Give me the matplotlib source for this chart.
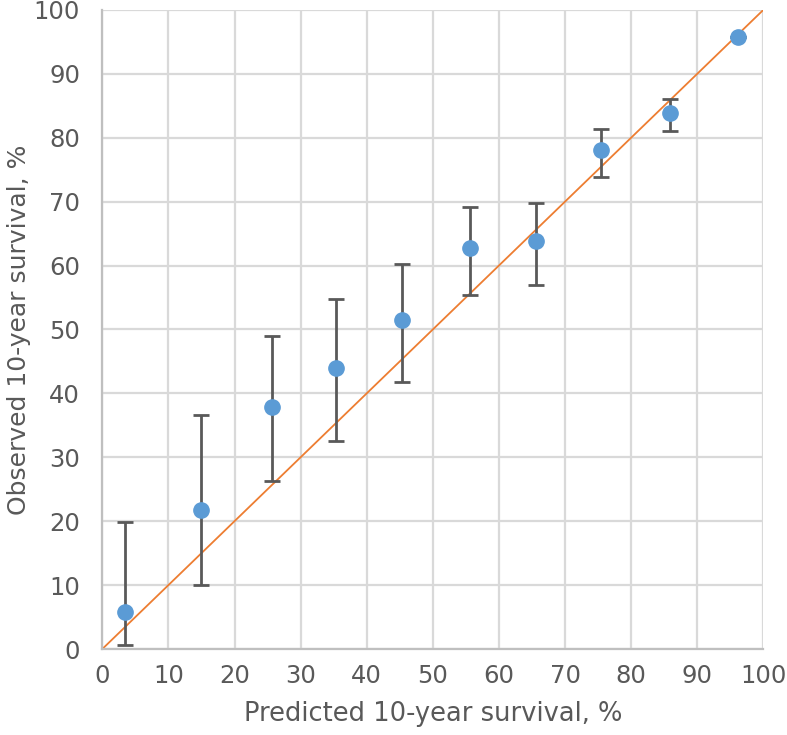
import matplotlib.pyplot as plt
import numpy as np

plt.rcParams['font.family'] = ['DejaVu Sans']

# predicted vs observed 10-year survival (%)
predicted = [3.5, 14.9, 25.6, 35.3, 45.3, 55.6, 65.6, 75.5, 85.8, 96.2]
observed = [5.8, 21.8, 37.8, 43.9, 51.5, 62.8, 63.8, 78.0, 83.8, 95.7]
ci_low = [0.6, 10.0, 26.3, 32.5, 41.8, 55.4, 57.0, 73.9, 81.1, 95.7]
ci_high = [19.8, 36.6, 49.0, 54.7, 60.3, 69.2, 69.8, 81.4, 86.1, 95.7]
ticks = list(range(0, 101, 10))

txt = "#595959"

fig = plt.figure(figsize=(7.87, 7.35), dpi=100)
ax = fig.add_axes([0.130, 0.117, 0.840, 0.8696])

obs = np.array(observed)
yerr = [obs - np.array(ci_low), np.array(ci_high) - obs]

# identity line
ax.plot([0, 100], [0, 100], color="#ED7D31", lw=1.3, zorder=2)

ax.errorbar(predicted, observed, yerr=yerr, fmt="none", ecolor="#595959",
            elinewidth=2, capsize=5.5, capthick=2, zorder=3)
ax.plot(predicted, observed, "o", color="#5B9BD5", markersize=11, zorder=4)

ax.set_xlim(0, 100)
ax.set_ylim(0, 100)
ax.set_xticks(ticks)
ax.set_yticks(ticks)
ax.grid(True, color="#D9D9D9", lw=1.6)
ax.set_axisbelow(True)
for s in ["top", "right"]:
    ax.spines[s].set_visible(False)
for s in ["left", "bottom"]:
    ax.spines[s].set_color("#BFBFBF")
    ax.spines[s].set_linewidth(1.6)
ax.tick_params(length=0, labelsize=17.5, labelcolor=txt)
ax.tick_params(axis="x", pad=11)
ax.tick_params(axis="y", pad=16)

ax.set_xlabel("Predicted 10-year survival, %", fontsize=18.5, color=txt, labelpad=9)
ax.set_ylabel("Observed 10-year survival, %", fontsize=18, color=txt, labelpad=2)

plt.savefig("out.png", dpi=100)
